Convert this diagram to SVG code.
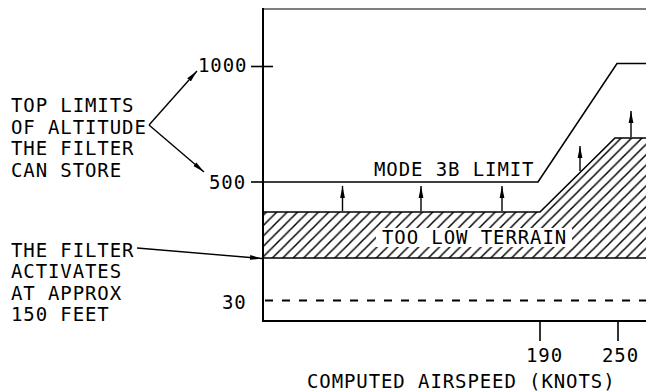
<svg xmlns="http://www.w3.org/2000/svg" width="646" height="391" viewBox="0 0 646 391">
<style>
text{font-family:"DejaVu Sans Mono","Liberation Mono",monospace;font-size:19px;letter-spacing:0.9px;fill:#000}
.ln{stroke:#000;stroke-width:1.6;fill:none}
.ax{stroke:#000;stroke-width:2;fill:none}
.arr{stroke:#000;stroke-width:1.4;fill:none;marker-end:url(#ah)}
</style>
<defs>
<marker id="ah" markerUnits="userSpaceOnUse" markerWidth="12" markerHeight="6" refX="12" refY="3" orient="auto" viewBox="0 0 12 6">
<path d="M0,0.6 L12,3 L0,5.4 z" fill="#000"/>
</marker>
<pattern id="hatch" patternUnits="userSpaceOnUse" width="10.4" height="10.4">
<path d="M-1,1 L1,-1 M0,10.4 L10.4,0 M9.4,11.4 L11.4,9.4" stroke="#000" stroke-width="1.5"/>
</pattern>
</defs>
<rect width="646" height="391" fill="#fff"/>
<g id="axes">
<line x1="263" y1="9" x2="646" y2="9" stroke="#555" stroke-width="1.5"/>
<line class="ax" x1="263" y1="8" x2="263" y2="322"/>
<line class="ax" x1="262" y1="321" x2="646" y2="321"/>
<line class="ln" x1="251" y1="66.5" x2="273" y2="66.5"/>
<line class="ln" x1="251" y1="182" x2="264" y2="182"/>
<line class="ln" x1="540" y1="321" x2="540" y2="341"/>
<line class="ln" x1="618" y1="321" x2="618" y2="341"/>
<line x1="264" y1="300.5" x2="646" y2="300.5" stroke="#000" stroke-width="2" stroke-dasharray="8 9" stroke-dashoffset="-1"/>
<text x="198" y="72">1000</text>
<text x="209" y="189">500</text>
<text x="222" y="309">30</text>
<text x="526" y="362">190</text>
<text x="602" y="362">250</text>
<text x="307" y="387.5">COMPUTED AIRSPEED (KNOTS)</text>
</g>
<g id="terrain">
<path d="M264,212 L540,212 L615,138 L646,138 L646,258 L264,258 z" fill="url(#hatch)"/>
<path class="ln" d="M264,212 L540,212 L615,138 L646,138"/>
<line class="ln" x1="264" y1="258" x2="646" y2="258"/>
<rect x="376" y="228" width="196" height="19" fill="#fff"/>
<text x="382" y="244">TOO LOW TERRAIN</text>
</g>
<g id="mode3b-limit">
<path class="ln" d="M264,182 L538,182 L617,63.5 L646,63.5"/>
<text x="374" y="176">MODE 3B LIMIT</text>
</g>
<g id="label-top-limits">
<text x="11" y="112">TOP LIMITS</text>
<text x="11" y="133.5">OF ALTITUDE</text>
<text x="11" y="155">THE FILTER</text>
<text x="11" y="176.5">CAN STORE</text>
</g>
<g id="label-filter-activates">
<text x="11" y="256.5">THE FILTER</text>
<text x="11" y="278">ACTIVATES</text>
<text x="11" y="299.5">AT APPROX</text>
<text x="11" y="321">150 FEET</text>
</g>
<g id="connectors">
<path class="arr" d="M149,125 L197,71"/>
<path class="arr" d="M149,125 L204,172"/>
<path class="arr" d="M137,248 L262,258.5"/>
<path class="arr" d="M342.5,211 L342.5,186"/>
<path class="arr" d="M421,211 L421,186"/>
<path class="arr" d="M502,211 L502,186"/>
<path class="arr" d="M580,171 L580,146"/>
<path class="arr" d="M631,137 L631,111"/>
</g>
</svg>
